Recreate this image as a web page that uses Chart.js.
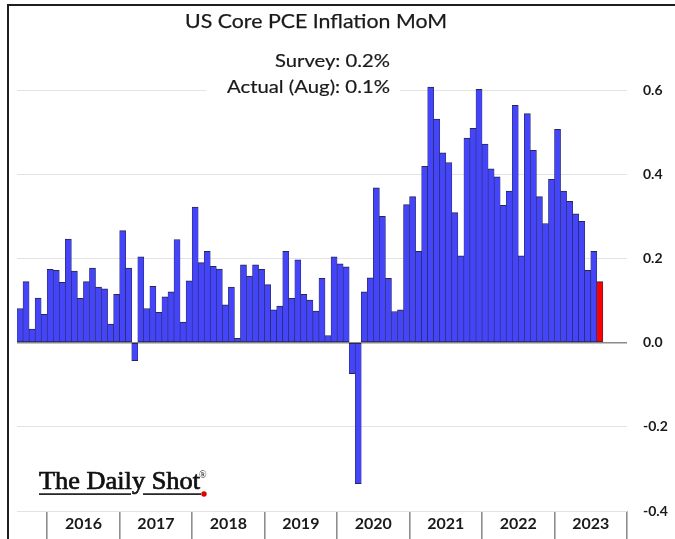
<!DOCTYPE html>
<html>
<head>
<meta charset="utf-8">
<script src="https://cdn.jsdelivr.net/npm/chart.js@4.4.0/dist/chart.umd.min.js"></script>
<style>
  html, body { margin: 0; padding: 0; background: #ffffff; }
  #wrap { width: 675px; height: 539px; position: relative; }
  canvas { display: block; }
</style>
</head>
<body>
<div id="wrap"><canvas id="c" width="675" height="539"></canvas></div>
<script>
// ---------- DATA ----------
const months = [
  '2015-08','2015-09','2015-10','2015-11','2015-12',
  '2016-01','2016-02','2016-03','2016-04','2016-05','2016-06','2016-07','2016-08','2016-09','2016-10','2016-11','2016-12',
  '2017-01','2017-02','2017-03','2017-04','2017-05','2017-06','2017-07','2017-08','2017-09','2017-10','2017-11','2017-12',
  '2018-01','2018-02','2018-03','2018-04','2018-05','2018-06','2018-07','2018-08','2018-09','2018-10','2018-11','2018-12',
  '2019-01','2019-02','2019-03','2019-04','2019-05','2019-06','2019-07','2019-08','2019-09','2019-10','2019-11','2019-12',
  '2020-01','2020-02','2020-03','2020-04','2020-05','2020-06','2020-07','2020-08','2020-09','2020-10','2020-11','2020-12',
  '2021-01','2021-02','2021-03','2021-04','2021-05','2021-06','2021-07','2021-08','2021-09','2021-10','2021-11','2021-12',
  '2022-01','2022-02','2022-03','2022-04','2022-05','2022-06','2022-07','2022-08','2022-09','2022-10','2022-11','2022-12',
  '2023-01','2023-02','2023-03','2023-04','2023-05','2023-06','2023-07','2023-08','2023-09','2023-10','2023-11','2023-12'
];
const values2015 = [0.081, 0.145, 0.032, 0.106, 0.067];
const values2016 = [0.174, 0.172, 0.143, 0.246, 0.170, 0.105, 0.145, 0.177, 0.132, 0.128, 0.044, 0.115];
const values2017 = [0.266, 0.177, -0.043, 0.204, 0.081, 0.134, 0.072, 0.109, 0.121, 0.245, 0.049, 0.147];
const values2018 = [0.322, 0.190, 0.217, 0.181, 0.175, 0.090, 0.132, 0.010, 0.185, 0.158, 0.185, 0.174];
const values2019 = [0.138, 0.078, 0.087, 0.217, 0.105, 0.197, 0.115, 0.101, 0.075, 0.153, 0.017, 0.204];
const values2020 = [0.187, 0.180, -0.074, -0.335, 0.121, 0.154, 0.368, 0.300, 0.153, 0.074, 0.078, 0.328];
const values2021 = [0.347, 0.217, 0.419, 0.607, 0.531, 0.451, 0.428, 0.309, 0.206, 0.486, 0.509, 0.602];
const values2022 = [0.472, 0.413, 0.394, 0.326, 0.360, 0.564, 0.206, 0.544, 0.457, 0.347, 0.283, 0.388];
const values2023 = [0.507, 0.360, 0.336, 0.306, 0.288, 0.172, 0.217, 0.145];

const yearLabels = ['2016','2017','2018','2019','2020','2021','2022','2023'];
const yearBoundaries = [2016, 2017, 2018, 2019, 2020, 2021, 2022, 2023, 2024];
const yearMids = [2016.5, 2017.5, 2018.5, 2019.5, 2020.5, 2021.5, 2022.5, 2023.5];
const yTicks = [-0.4, -0.2, 0.0, 0.2, 0.4, 0.6];

const titleText = 'US Core PCE Inflation MoM';
const surveyText = 'Survey: 0.2%';
const actualText = 'Actual (Aug): 0.1%';
const logoText = 'The Daily Shot';

// ---------- BUILD ----------
const values = [].concat(values2015, values2016, values2017, values2018, values2019,
                         values2020, values2021, values2022, values2023);
const BLUE = '#4444f9';
const RED = '#ff0000';
const barColors = values.map((v, i) => i === values.length - 1 ? RED : BLUE);

const FONT = 'Lato, "Open Sans", sans-serif';

function fitText(ctx, text, x, y, align, font, targetW, strokeW) {
  ctx.font = font;
  const w = ctx.measureText(text).width;
  const s = targetW / w;
  ctx.save();
  ctx.translate(x, y);
  ctx.scale(s, 1);
  ctx.textAlign = align;
  ctx.fillText(text, 0, 0);
  if (strokeW) {
    ctx.strokeStyle = ctx.fillStyle;
    ctx.lineWidth = strokeW;
    ctx.strokeText(text, 0, 0);
  }
  ctx.restore();
}

const decorPlugin = {
  id: 'decor',
  afterDraw(chart) {
    const ctx = chart.ctx;
    ctx.save();
    // frame
    ctx.fillStyle = '#1e1e1e';
    ctx.fillRect(7, 4, 668, 2);
    ctx.fillRect(7, 4, 2, 535);

    // white box behind the annotation (interrupts gridline)
    ctx.fillStyle = '#ffffff';
    ctx.fillRect(206, 78, 194, 22);

    ctx.fillStyle = '#1a1a1a';
    ctx.textBaseline = 'alphabetic';
    // title
    fitText(ctx, titleText, 316, 28, 'center', '20px ' + FONT, 262, 0.25);
    // survey / actual
    fitText(ctx, surveyText, 390, 67, 'right', '18px ' + FONT, 115, 0.2);
    fitText(ctx, actualText, 390, 93, 'right', '18px ' + FONT, 163, 0.2);

    // logo
    ctx.fillStyle = '#111111';
    fitText(ctx, logoText, 39, 489, 'left', '25px "Liberation Serif", "DejaVu Serif", serif', 161, 0.7);
    ctx.fillRect(39, 493.3, 92, 1.6);
    ctx.fillRect(143, 493.3, 58, 1.6);
    ctx.textAlign = 'left';
    ctx.font = '10px "Liberation Serif", serif';
    ctx.fillText('\u00AE', 199, 478);
    ctx.fillStyle = '#e00000';
    ctx.beginPath();
    ctx.arc(204, 494, 2.7, 0, Math.PI * 2);
    ctx.fill();
    ctx.restore();
  }
};

new Chart(document.getElementById('c'), {
  type: 'bar',
  data: {
    labels: months,
    datasets: [{
      label: 'US Core PCE Inflation MoM',
      data: values,
      backgroundColor: barColors,
      borderColor: '#27274f',
      borderWidth: { top: 1, bottom: 1, left: 0.6, right: 0.6 },
      borderSkipped: false,
      barPercentage: 1.0,
      categoryPercentage: 1.0,
      xAxisID: 'x',
      yAxisID: 'y'
    }]
  },
  options: {
    responsive: false,
    animation: false,
    devicePixelRatio: 1,
    layout: { padding: { left: 17, top: 48, right: 0, bottom: 0 } },
    plugins: {
      legend: { display: false },
      title: { display: false },
      tooltip: { enabled: false }
    },
    scales: {
      x: {
        type: 'category',
        display: false,
        offset: true
      },
      yr: {
        type: 'linear',
        position: 'bottom',
        offset: false,
        min: 2015 + 7 / 12,
        max: 2024,
        afterBuildTicks: (s) => {
          s.ticks = yearBoundaries.concat(yearMids).sort((a, b) => a - b).map(v => ({ value: v }));
        },
        afterFit: (s) => { s.height = 28; },
        grid: {
          display: true,
          offset: false,
          drawOnChartArea: false,
          drawTicks: true,
          tickLength: 28,
          lineWidth: 1.6,
          color: (c) => (c.tick && Number.isInteger(c.tick.value)) ? '#8e8e8e' : 'rgba(0,0,0,0)'
        },
        border: { display: false },
        ticks: {
          autoSkip: false,
          maxRotation: 0,
          minRotation: 0,
          padding: -24.5,
          color: '#1a1a1a',
          font: { family: FONT, weight: 'bold', size: 16 },
          callback: (v) => Number.isInteger(v) ? '' : yearLabels[Math.floor(v) - 2016]
        }
      },
      y: {
        position: 'right',
        min: -0.4,
        max: 0.7,
        afterBuildTicks: (s) => { s.ticks = yTicks.map(v => ({ value: v })); },
        afterFit: (s) => { s.width = 48; },
        grid: {
          drawTicks: false,
          tickLength: 0,
          color: (c) => (c.tick && Math.abs(c.tick.value) < 1e-9) ? '#8a8a8a' : '#e3e3e3',
          lineWidth: (c) => (c.tick && Math.abs(c.tick.value) < 1e-9) ? 1.5 : 1
        },
        border: { display: false },
        ticks: {
          padding: 16,
          color: '#1a1a1a',
          font: { family: FONT, weight: 'bold', size: 14 },
          callback: (v) => Number(v).toFixed(1)
        }
      }
    }
  },
  plugins: [decorPlugin]
});
</script>
</body>
</html>
